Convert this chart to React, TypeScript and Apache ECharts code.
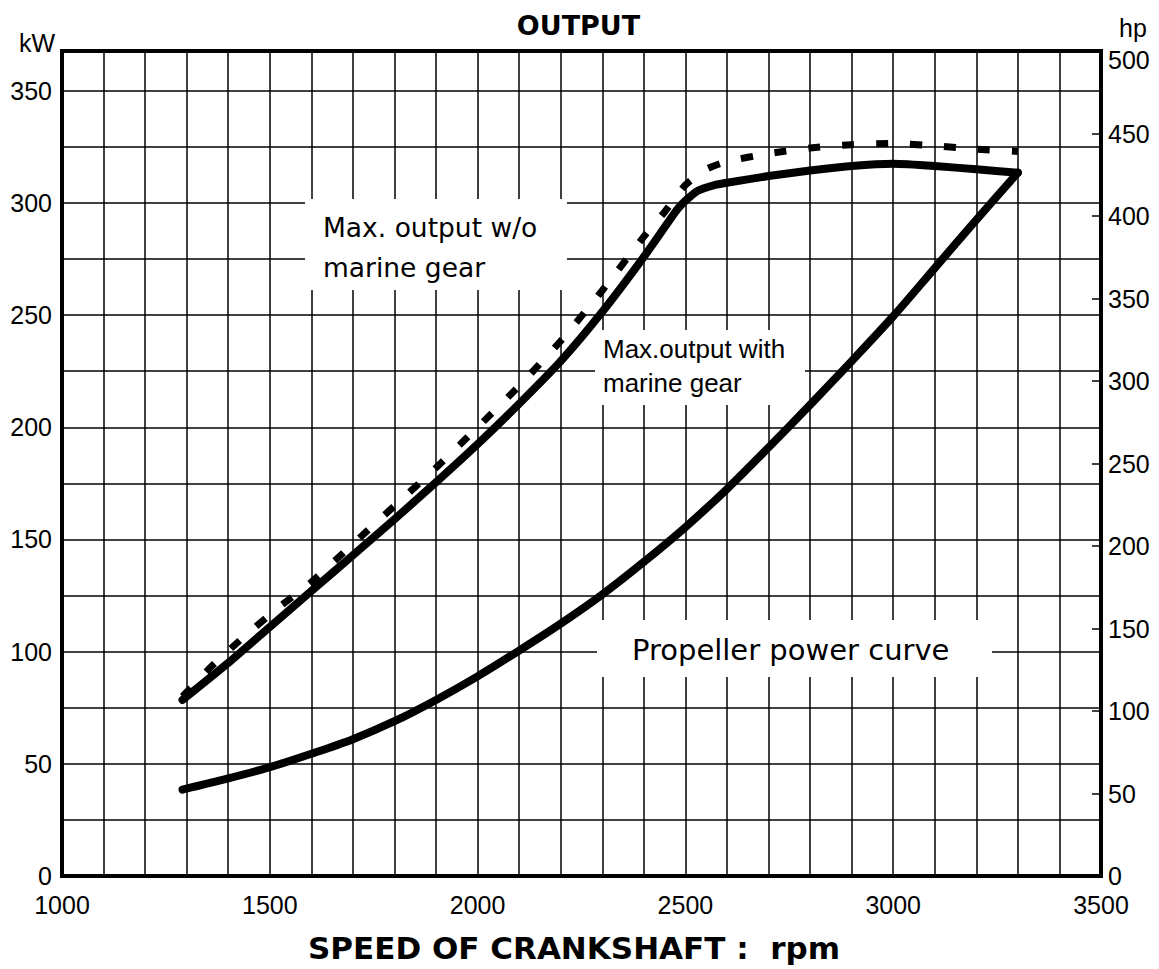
import React, { useEffect, useRef } from "react";
import * as echarts from "echarts";

// ---- data (rpm vs kW) ----
const rpmWithGear = [1290, 1400, 1500, 1600, 1700, 1800, 1900, 2000, 2100, 2200, 2300, 2400, 2480, 2500, 2530, 2570, 2600, 2700, 2800, 2900, 3000, 3100, 3200, 3300];
const kwWithGear = [78.5, 95, 111, 127, 143, 159, 175.5, 192.5, 210.5, 229.5, 251.5, 276, 297, 301, 305.5, 308, 309, 312, 314.5, 316.5, 317.5, 316.5, 315, 313.5];

const rpmNoGear = [1290, 1360, 1440, 1520, 1600, 1700, 1800, 1900, 2000, 2100, 2200, 2300, 2400, 2450, 2500, 2550, 2600, 2700, 2800, 2900, 3000, 3100, 3200, 3300];
const kwNoGear = [80, 93.5, 107, 119.5, 131, 148, 165, 182, 200, 218.5, 238.5, 261, 285, 296, 308, 315, 318.5, 322, 324.5, 326, 326.5, 325.5, 324, 323];

const rpmPropeller = [1290, 1400, 1500, 1600, 1700, 1800, 1900, 2000, 2100, 2200, 2300, 2400, 2500, 2600, 2700, 2800, 2900, 3000, 3100, 3200, 3300];
const kwPropeller = [38.5, 43.5, 48.5, 54.5, 61, 69, 78.5, 89, 100.5, 112.5, 125.5, 140, 155.5, 172.5, 191, 210, 229.5, 249.5, 271, 292.5, 313.5];

// ---- tick labels ----
const rpmTickLabels = [1000, 1500, 2000, 2500, 3000, 3500];
const kwTickLabels = [0, 50, 100, 150, 200, 250, 300, 350];
const hpTickLabels = [0, 50, 100, 150, 200, 250, 300, 350, 400, 450, 500];
const KW_PER_HP = 0.7355; // metric horsepower
const HP_MAX = 500;

const zip = (xs: number[], ys: number[]) => xs.map((x, i) => [x, ys[i]]);

const TICK_FONT = "Liberation Sans, Arial, sans-serif";
const WIDE_FONT = "DejaVu Sans, sans-serif";

export default function App() {
  const ref = useRef<HTMLDivElement>(null);
  useEffect(() => {
    document.body.style.margin = "0";
    const chart = echarts.init(ref.current!, null, { renderer: "svg" });
    chart.setOption({
      animation: false,
      backgroundColor: "#ffffff",
      textStyle: { fontFamily: TICK_FONT },
      grid: {
        left: 62,
        right: 58,
        top: 51,
        bottom: 93,
        show: true,
        borderColor: "#000",
        borderWidth: 4,
      },
      xAxis: {
        type: "value",
        min: 1000,
        max: 3500,
        interval: 100,
        axisLine: { show: false },
        axisTick: { show: false },
        splitLine: { show: true, lineStyle: { color: "#000", width: 1.5 } },
        axisLabel: {
          formatter: (v: number) => (rpmTickLabels.includes(v) ? String(v) : ""),
          fontSize: 25,
          color: "#000",
          margin: 16,
          fontFamily: TICK_FONT,
        },
      },
      yAxis: [
        {
          type: "value",
          min: 0,
          max: HP_MAX * KW_PER_HP,
          interval: 25,
          position: "left",
          axisLine: { show: false },
          axisTick: { show: false },
          splitLine: { show: true, lineStyle: { color: "#000", width: 1.5 } },
          axisLabel: {
            formatter: (v: number) => (kwTickLabels.includes(v) ? String(v) : ""),
            fontSize: 25,
            color: "#000",
            margin: 10,
            fontFamily: TICK_FONT,
          },
        },
        {
          type: "value",
          min: 0,
          max: HP_MAX,
          interval: 50,
          position: "right",
          axisLine: { show: false },
          axisTick: { show: true, inside: true, length: 9, lineStyle: { color: "#000", width: 1.5 } },
          splitLine: { show: false },
          axisLabel: {
            formatter: (v: number) =>
              !hpTickLabels.includes(v) ? "" : v === HP_MAX ? `{shift|${v}}` : String(v),
            fontSize: 25,
            color: "#000",
            margin: 7,
            fontFamily: TICK_FONT,
            rich: {
              shift: { fontSize: 25, color: "#000", fontFamily: TICK_FONT, padding: [18, 0, 0, 0] },
            },
          },
        },
      ],
      series: [
        {
          name: "Max. output w/o marine gear",
          type: "line",
          yAxisIndex: 0,
          data: zip(rpmNoGear, kwNoGear),
          showSymbol: false,
          symbol: "none",
          smooth: 0.2,
          lineStyle: { color: "#000", width: 7, type: [12, 22], cap: "butt" },
          z: 3,
        },
        {
          name: "Max. output with marine gear",
          type: "line",
          yAxisIndex: 0,
          data: zip(rpmWithGear, kwWithGear),
          showSymbol: false,
          symbol: "none",
          smooth: 0.2,
          lineStyle: { color: "#000", width: 8, cap: "round", join: "round" },
          z: 4,
        },
        {
          name: "Propeller power curve",
          type: "line",
          yAxisIndex: 0,
          data: zip(rpmPropeller, kwPropeller),
          showSymbol: false,
          symbol: "none",
          smooth: 0.3,
          lineStyle: { color: "#000", width: 8, cap: "round", join: "round" },
          z: 4,
        },
      ],
      graphic: {
        elements: [
          { type: "rect", z: 1, shape: { x: 305, y: 199, width: 262, height: 91 }, style: { fill: "#fff" } },
          { type: "rect", z: 1, shape: { x: 595, y: 330, width: 210, height: 75 }, style: { fill: "#fff" } },
          { type: "rect", z: 1, shape: { x: 597, y: 620, width: 395, height: 57 }, style: { fill: "#fff" } },
          {
            type: "text", z: 2, x: 323, y: 227.5,
            style: { text: "Max. output w/o", fill: "#000", fontSize: 26.5, fontFamily: WIDE_FONT, align: "left", verticalAlign: "middle" },
          },
          {
            type: "text", z: 2, x: 323, y: 267.5,
            style: { text: "marine gear", fill: "#000", fontSize: 26.5, fontFamily: WIDE_FONT, align: "left", verticalAlign: "middle" },
          },
          {
            type: "text", z: 2, x: 603, y: 349,
            style: { text: "Max.output with", fill: "#000", fontSize: 26, fontFamily: TICK_FONT, align: "left", verticalAlign: "middle" },
          },
          {
            type: "text", z: 2, x: 603, y: 383,
            style: { text: "marine gear", fill: "#000", fontSize: 26, fontFamily: TICK_FONT, align: "left", verticalAlign: "middle" },
          },
          {
            type: "text", z: 2, x: 632, y: 649.5,
            style: { text: "Propeller power curve", fill: "#000", fontSize: 29, fontFamily: WIDE_FONT, align: "left", verticalAlign: "middle" },
          },
          {
            type: "text", z: 2, x: 578.5, y: 25,
            style: { text: "OUTPUT", fill: "#000", fontSize: 27, fontWeight: "bold", fontFamily: WIDE_FONT, align: "center", verticalAlign: "middle" },
          },
          {
            type: "text", z: 2, x: 55, y: 43,
            style: { text: "kW", fill: "#000", fontSize: 25, fontFamily: TICK_FONT, align: "right", verticalAlign: "middle" },
          },
          {
            type: "text", z: 2, x: 1133, y: 28,
            style: { text: "hp", fill: "#000", fontSize: 25, fontFamily: TICK_FONT, align: "center", verticalAlign: "middle" },
          },
          {
            type: "text", z: 2, x: 574, y: 947.5,
            style: { text: "SPEED OF CRANKSHAFT :  rpm", fill: "#000", fontSize: 31, fontWeight: "bold", fontFamily: WIDE_FONT, align: "center", verticalAlign: "middle" },
          },
        ],
      },
    });
    return () => chart.dispose();
  }, []);
  return <div ref={ref} style={{ width: 1159, height: 969, overflow: "hidden" }} />;
}
